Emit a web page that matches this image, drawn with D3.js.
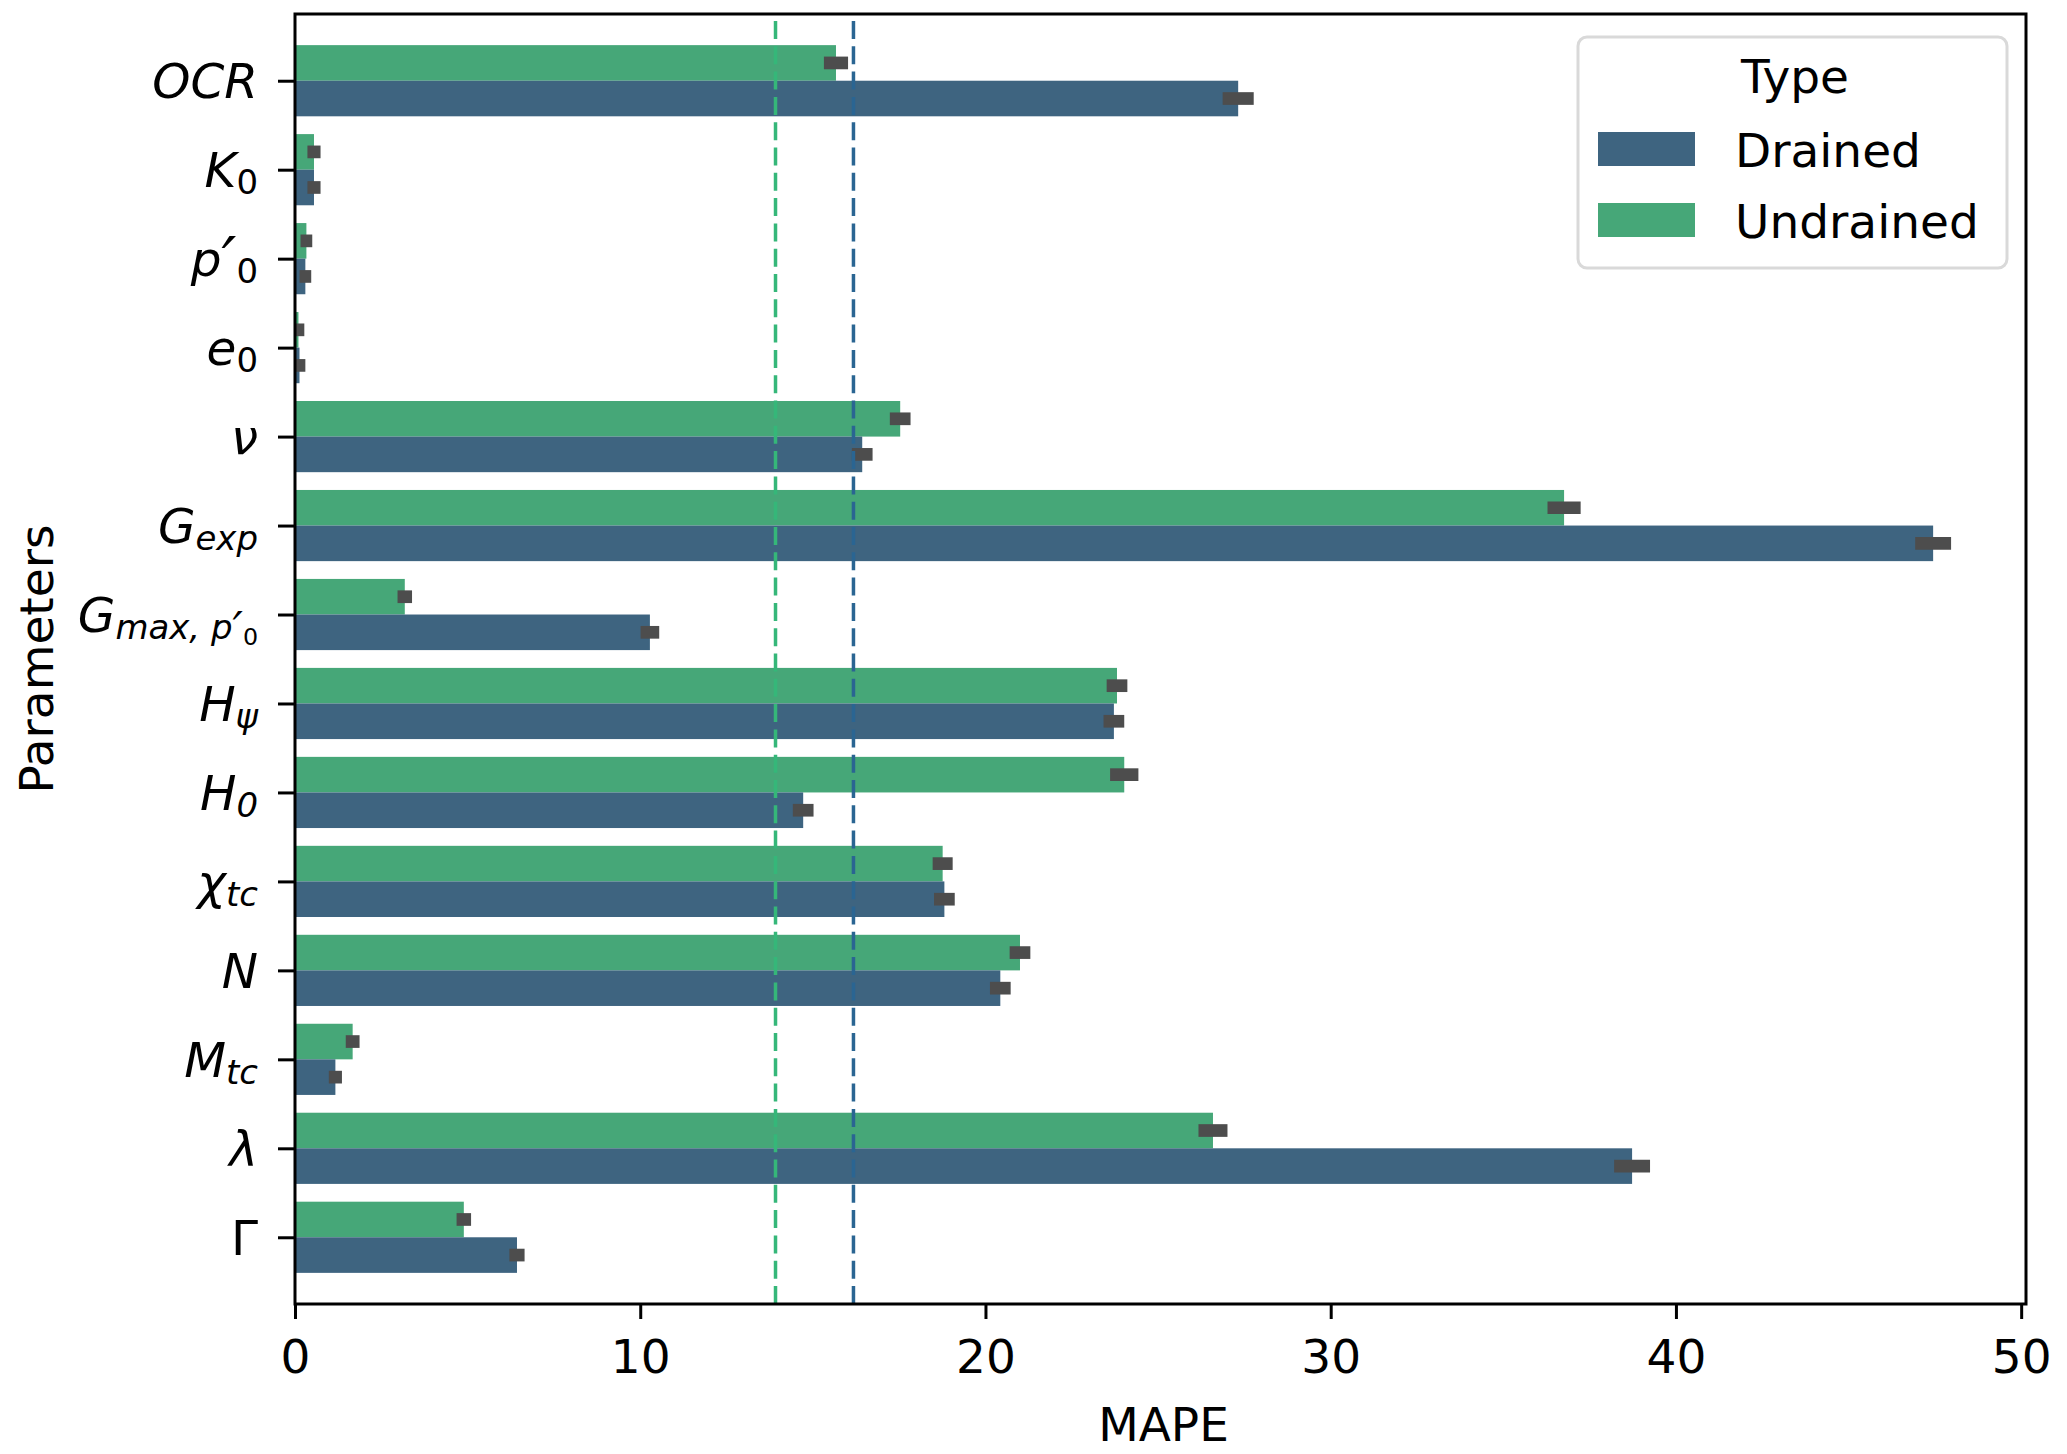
<!DOCTYPE html>
<html>
<head>
<meta charset="utf-8">
<script src="https://cdn.jsdelivr.net/npm/d3@7"></script>
<style>
  body { margin: 0; background: #fff; }
  text { font-family: "DejaVu Sans", sans-serif; fill: #000; }
</style>
</head>
<body>
<div id="chart"></div>
<script>
// MAPE per model parameter, drained vs undrained tests

// tick labels as mathtext-like pieces: i = italic, s = subscript level, p = prime
const paramLabels = [
    [{ t: 'OCR', i: 1 }],
    [{ t: 'K', i: 1 }, { t: '0', s: 1 }],
    [{ t: 'p', i: 1 }, { t: '′', p: 1 }, { t: '0', s: 1 }],
    [{ t: 'e', i: 1 }, { t: '0', s: 1 }],
    [{ t: 'ν', i: 1 }],
    [{ t: 'G', i: 1 }, { t: 'exp', i: 1, s: 1 }],
    [{ t: 'G', i: 1 }, { t: 'max, p', i: 1, s: 1 }, { t: '′', s: 1, p: 1 }, { t: '0', s: 2 }],
    [{ t: 'H', i: 1 }, { t: 'ψ', i: 1, s: 1 }],
    [{ t: 'H', i: 1 }, { t: '0', i: 1, s: 1 }],
    [{ t: 'χ', i: 1 }, { t: 'tc', i: 1, s: 1 }],
    [{ t: 'N', i: 1 }],
    [{ t: 'M', i: 1 }, { t: 'tc', i: 1, s: 1 }],
    [{ t: 'λ', i: 1 }],
    [{ t: 'Γ' }]
];

const drained      = [27.32, 0.55, 0.30, 0.13, 16.43, 47.45, 10.28, 23.72, 14.72, 18.81, 20.43, 1.17, 38.73, 6.43];
const drainedErr   = [0.45, 0.19, 0.17, 0.17, 0.30, 0.52, 0.27, 0.30, 0.30, 0.30, 0.30, 0.19, 0.52, 0.22];
const undrained    = [15.67, 0.55, 0.33, 0.10, 17.53, 36.76, 3.18, 23.81, 24.02, 18.76, 21.00, 1.67, 26.59, 4.89];
const undrainedErr = [0.35, 0.19, 0.17, 0.17, 0.30, 0.48, 0.21, 0.30, 0.41, 0.29, 0.30, 0.20, 0.42, 0.21];

const xTicks = [0, 10, 20, 30, 40, 50];
const seriesNames = ['Drained', 'Undrained'];

const width = 2067, height = 1454;
const margin = { left: 295, right: 2026, top: 14, bottom: 1304 };
const fontSize = 47;
const labelSize = 48.5;

const barColor = { Drained: '#3e6480', Undrained: '#46a778' };
const meanColor = { Drained: '#2a6592', Undrained: '#35b779' };

const svg = d3.select('#chart')
    .append('svg')
    .attr('width', width)
    .attr('height', height)
    .attr('viewBox', [0, 0, width, height]);

svg.append('rect').attr('width', width).attr('height', height).attr('fill', '#fff');

const x = d3.scaleLinear().domain([0, 50.14]).range([margin.left, margin.right]);
const y = d3.scaleLinear().domain([-0.75, 13.75]).range([margin.top, margin.bottom]);
const barH = y(0.4) - y(0);

// bars: undrained above the tick, drained below
const series = [
    { name: 'Undrained', values: undrained, errs: undrainedErr, offset: -0.4 },
    { name: 'Drained', values: drained, errs: drainedErr, offset: 0 }
];

const plot = svg.append('g');

series.forEach(s => {
    plot.append('g')
        .selectAll('rect')
        .data(s.values)
        .join('rect')
        .attr('x', x(0))
        .attr('y', (d, i) => y(i + s.offset))
        .attr('width', d => x(d) - x(0))
        .attr('height', barH)
        .attr('fill', barColor[s.name]);
});

// error bars
series.forEach(s => {
    plot.append('g')
        .selectAll('line')
        .data(s.values)
        .join('line')
        .attr('x1', (d, i) => x(Math.max(0, d - s.errs[i])))
        .attr('x2', (d, i) => x(d + s.errs[i]))
        .attr('y1', (d, i) => y(i + s.offset + 0.2))
        .attr('y2', (d, i) => y(i + s.offset + 0.2))
        .attr('stroke', '#4d4d4d')
        .attr('stroke-width', 12.7);
});

// mean lines
[{ name: 'Undrained', values: undrained }, { name: 'Drained', values: drained }].forEach(s => {
    const m = d3.mean(s.values);
    plot.append('line')
        .attr('x1', x(m)).attr('x2', x(m))
        .attr('y1', margin.bottom).attr('y2', margin.top)
        .attr('stroke', meanColor[s.name])
        .attr('stroke-width', 3.5)
        .attr('stroke-dasharray', '18 7.3');
});

// x axis
const xAxis = svg.append('g')
    .attr('transform', `translate(0,${margin.bottom})`)
    .call(d3.axisBottom(x).tickValues(xTicks).tickSize(15).tickPadding(21));
xAxis.select('.domain').remove();
xAxis.selectAll('line').attr('stroke', '#000').attr('stroke-width', 3);
xAxis.selectAll('text')
    .attr('font-size', fontSize)
    .attr('font-family', '"DejaVu Sans", sans-serif')
    .attr('fill', '#000');

// y axis with mathtext-like labels
const yAxis = svg.append('g')
    .attr('transform', `translate(${margin.left},0)`)
    .call(d3.axisLeft(y).tickValues(d3.range(paramLabels.length)).tickSize(17).tickFormat(''));
yAxis.select('.domain').remove();
yAxis.selectAll('line').attr('stroke', '#000').attr('stroke-width', 3);

const subScale = 0.7;
const subShift = [0, 7, 13];

yAxis.selectAll('.tick').each(function (d) {
    const txt = d3.select(this).append('text')
        .attr('x', -37)
        .attr('y', 17)
        .attr('text-anchor', 'end')
        .attr('font-size', labelSize)
        .attr('font-family', '"DejaVu Sans", sans-serif')
        .attr('fill', '#000');
    let cur = 0;
    paramLabels[d].forEach(p => {
        const lvl = p.s || 0;
        const size = labelSize * Math.pow(subScale, lvl) * (p.p ? 1.35 : 1);
        const shift = subShift[lvl] + (p.p ? size * 0.12 : 0);
        txt.append('tspan')
            .attr('dy', shift - cur)
            .attr('font-size', size)
            .attr('font-style', p.i || p.p ? 'italic' : 'normal')
            .text(p.t);
        cur = shift;
    });
});

// frame
svg.append('rect')
    .attr('x', margin.left)
    .attr('y', margin.top)
    .attr('width', margin.right - margin.left)
    .attr('height', margin.bottom - margin.top)
    .attr('fill', 'none')
    .attr('stroke', '#000')
    .attr('stroke-width', 3);

// axis titles
svg.append('text')
    .attr('x', (margin.left + margin.right) / 2 + 3)
    .attr('y', 1441)
    .attr('text-anchor', 'middle')
    .attr('font-size', fontSize)
    .text('MAPE');

svg.append('text')
    .attr('transform', `translate(53,${(margin.top + margin.bottom) / 2}) rotate(-90)`)
    .attr('text-anchor', 'middle')
    .attr('font-size', fontSize)
    .text('Parameters');

// legend
const legend = svg.append('g').attr('transform', 'translate(1578,37)');
legend.append('rect')
    .attr('width', 429).attr('height', 231).attr('rx', 9)
    .attr('fill', '#fff').attr('fill-opacity', 0.8)
    .attr('stroke', '#d9d9d9').attr('stroke-width', 3);
legend.append('text')
    .attr('x', 217).attr('y', 56)
    .attr('text-anchor', 'middle')
    .attr('font-size', fontSize)
    .text('Type');
seriesNames.forEach((name, i) => {
    const row = legend.append('g').attr('transform', `translate(0,${95 + i * 71})`);
    row.append('rect')
        .attr('x', 20).attr('width', 97).attr('height', 34)
        .attr('fill', barColor[name]);
    row.append('text')
        .attr('x', 157).attr('y', 35)
        .attr('font-size', fontSize)
        .text(name);
});
</script>
</body>
</html>
